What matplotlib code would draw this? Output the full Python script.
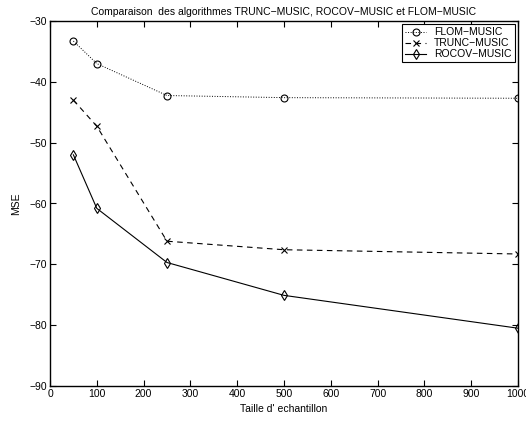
import matplotlib
matplotlib.use("Agg")
import matplotlib.pyplot as plt

x = [50, 100, 250, 500, 1000]
flom = [-33.3, -37.0, -42.25, -42.6, -42.7]
trunc = [-43.0, -47.3, -66.2, -67.6, -68.3]
rocov = [-52.0, -60.8, -69.7, -75.1, -80.5]
xticks = list(range(0, 1001, 100))
yticks = list(range(-90, -29, 10))

plt.rcParams['font.family'] = ['Liberation Sans', 'DejaVu Sans']
plt.rcParams['font.size'] = 7.5
plt.rcParams['axes.unicode_minus'] = True

fig = plt.figure(figsize=(5.26, 4.23), dpi=100)
ax = fig.add_axes([50/526, 37/423, 468/526, 365/423])

ax.plot(x, flom, linestyle=':', color='black', marker='o', markersize=5,
        markerfacecolor='none', markeredgewidth=0.8, linewidth=0.7,
        label='FLOM\u2212MUSIC')
ax.plot(x, trunc, linestyle='--', color='black', marker='x', markersize=4,
        markeredgewidth=0.8, linewidth=0.8, label='TRUNC\u2212MUSIC', dashes=(5, 4))
ax.plot(x, rocov, linestyle='-', color='black', marker='d', markersize=5.5,
        markerfacecolor='none', markeredgewidth=0.8, linewidth=0.8,
        label='ROCOV\u2212MUSIC')

ax.set_xlim(0, 1000)
ax.set_ylim(-90, -30)
ax.set_xticks(xticks)
ax.set_yticks(yticks)
ax.set_xticklabels([str(v) for v in xticks])
ax.set_yticklabels([str(v).replace('-', '\u2212') for v in yticks])
ax.tick_params(direction='in', top=True, right=True, length=4, width=0.8, pad=2)
for s in ax.spines.values():
    s.set_linewidth(1.0)

ax.set_xlabel("Taille d' echantillon", labelpad=4)
ax.set_ylabel("MSE", labelpad=6)
ax.set_title("Comparaison  des algorithmes TRUNC\u2212MUSIC, ROCOV\u2212MUSIC et FLOM\u2212MUSIC",
             fontsize=7.5, pad=4)

leg = ax.legend(loc='upper right', fancybox=False, edgecolor='black',
                framealpha=1, fontsize=7.5, handlelength=2, borderpad=0.3,
                labelspacing=0.1, borderaxespad=0.3)
leg.get_frame().set_linewidth(0.8)

fig.savefig("out.png", dpi=100)
